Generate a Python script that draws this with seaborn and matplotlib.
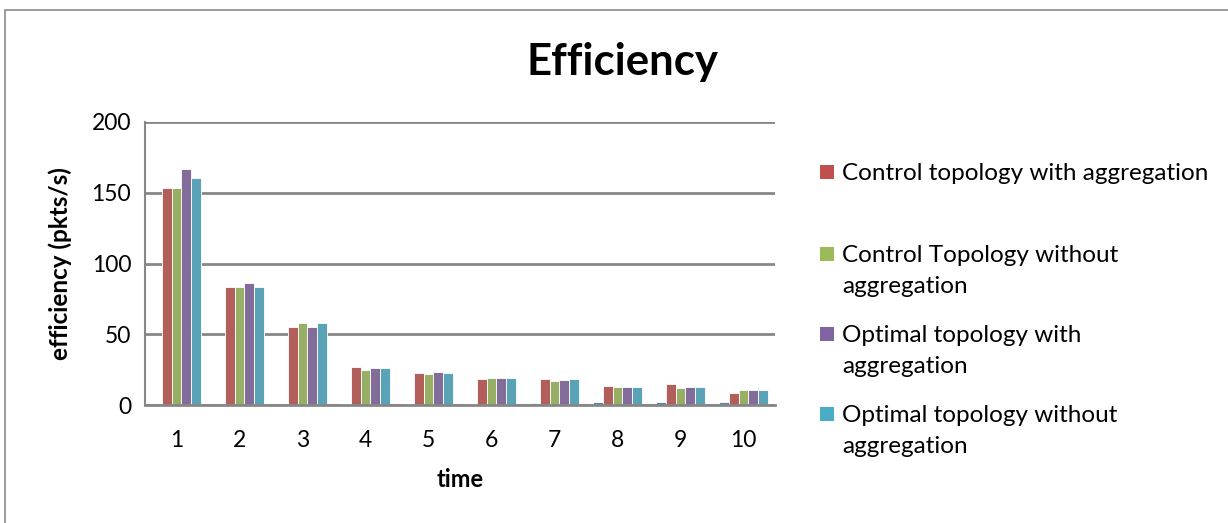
import matplotlib
matplotlib.use("Agg")
import matplotlib.pyplot as plt
from matplotlib.patches import Rectangle
import pandas as pd
import seaborn as sns

# values
times = ["1", "2", "3", "4", "5", "6", "7", "8", "9", "10"]
series_names = [
    "Series 0",
    "Control topology with aggregation",
    "Control Topology without aggregation",
    "Optimal topology with aggregation",
    "Optimal topology without aggregation",
]
hidden_series = [0.2, 0.2, 0.3, 0.8, 0.9, 1.0, 1.3, 1.8, 2.0, 2.2]
control_with = [153.5, 83.1, 55.4, 27.1, 22.4, 18.4, 18.6, 13.4, 14.5, 8.8]
control_without = [153.5, 83.1, 57.7, 24.9, 21.7, 18.9, 17.2, 13.0, 12.2, 10.4]
optimal_with = [166.8, 86.4, 55.4, 25.8, 23.3, 18.9, 17.9, 13.0, 12.6, 10.8]
optimal_without = [160.2, 83.1, 57.7, 25.8, 22.4, 18.9, 18.6, 12.6, 12.6, 10.4]
legend_labels = [
    "Control topology with aggregation",
    "Control Topology without\naggregation",
    "Optimal topology with\naggregation",
    "Optimal topology without\naggregation",
]
colors = ["#4F81BD", "#C0504D", "#9BBB59", "#8064A2", "#4BACC6"]

all_values = [hidden_series, control_with, control_without, optimal_with, optimal_without]
rows = []
for name, vals in zip(series_names, all_values):
    for t, v in zip(times, vals):
        rows.append({"time": t, "series": name, "value": v})
df = pd.DataFrame(rows)

sns.set_style("white")
plt.rcParams["font.family"] = ["Lato", "DejaVu Sans"]
plt.rcParams["text.color"] = "black"
plt.rcParams["axes.labelcolor"] = "black"
plt.rcParams["xtick.labelcolor"] = "black"
plt.rcParams["ytick.labelcolor"] = "black"

fig = plt.figure(figsize=(12.28, 5.23), dpi=100)
ax = fig.add_axes([145 / 1228, 1 - 405 / 523, 630 / 1228, 283 / 523])

sns.barplot(data=df, x="time", y="value", hue="series", order=times,
            hue_order=series_names, palette=colors, width=0.78,
            edgecolor="white", linewidth=0.6, legend=False, ax=ax)

grid_c = "#878787"
ax.set_ylim(0, 200)
ax.set_xlim(-0.5, len(times) - 0.5)
ax.set_yticks([0, 50, 100, 150, 200])
ax.yaxis.grid(True, color=grid_c, linewidth=2)
ax.set_axisbelow(True)
for s in ["top", "right"]:
    ax.spines[s].set_visible(False)
ax.spines["left"].set_color(grid_c)
ax.spines["bottom"].set_color(grid_c)
ax.spines["left"].set_linewidth(1.5)
ax.spines["bottom"].set_linewidth(2)

ax.set_xticks([i - 0.5 for i in range(len(times) + 1)], minor=True)
ax.tick_params(axis="x", which="major", length=0, pad=18, labelsize=16.5)
ax.tick_params(axis="x", which="minor", length=9, width=1.5, color=grid_c, direction="out")
ax.tick_params(axis="y", length=6, width=1.5, color=grid_c, direction="out", labelsize=16.5, pad=4)

ax.set_xlabel("time", fontsize=17, fontweight="bold", labelpad=12)
ax.set_ylabel("efficiency (pkts/s)", fontsize=17.5, fontweight="bold", labelpad=14)

fig.text(622 / 1228, 1 - 62 / 523, "Efficiency", fontsize=31.5, fontweight="bold",
         ha="center", va="center")

# legend drawn by hand, Excel style
ys = [172, 254, 334, 414]
for lab, col, y in zip(legend_labels, colors[1:], ys):
    fig.patches.append(Rectangle((820 / 1228, 1 - (y + 7) / 523), 14 / 1228, 14 / 523,
                                 transform=fig.transFigure, facecolor=col,
                                 edgecolor="none"))
    fig.text(842 / 1228, 1 - (y - 9) / 523, lab, fontsize=17.5, ha="left", va="top",
             linespacing=1.6)

# outer chart frame
fig.patches.append(Rectangle((5 / 1228, -0.2), 1.3, 1.2 - 9.5 / 523,
                             transform=fig.transFigure, facecolor="none",
                             edgecolor="#8a8a8a", linewidth=1.2))

fig.savefig("out.png", dpi=100)
